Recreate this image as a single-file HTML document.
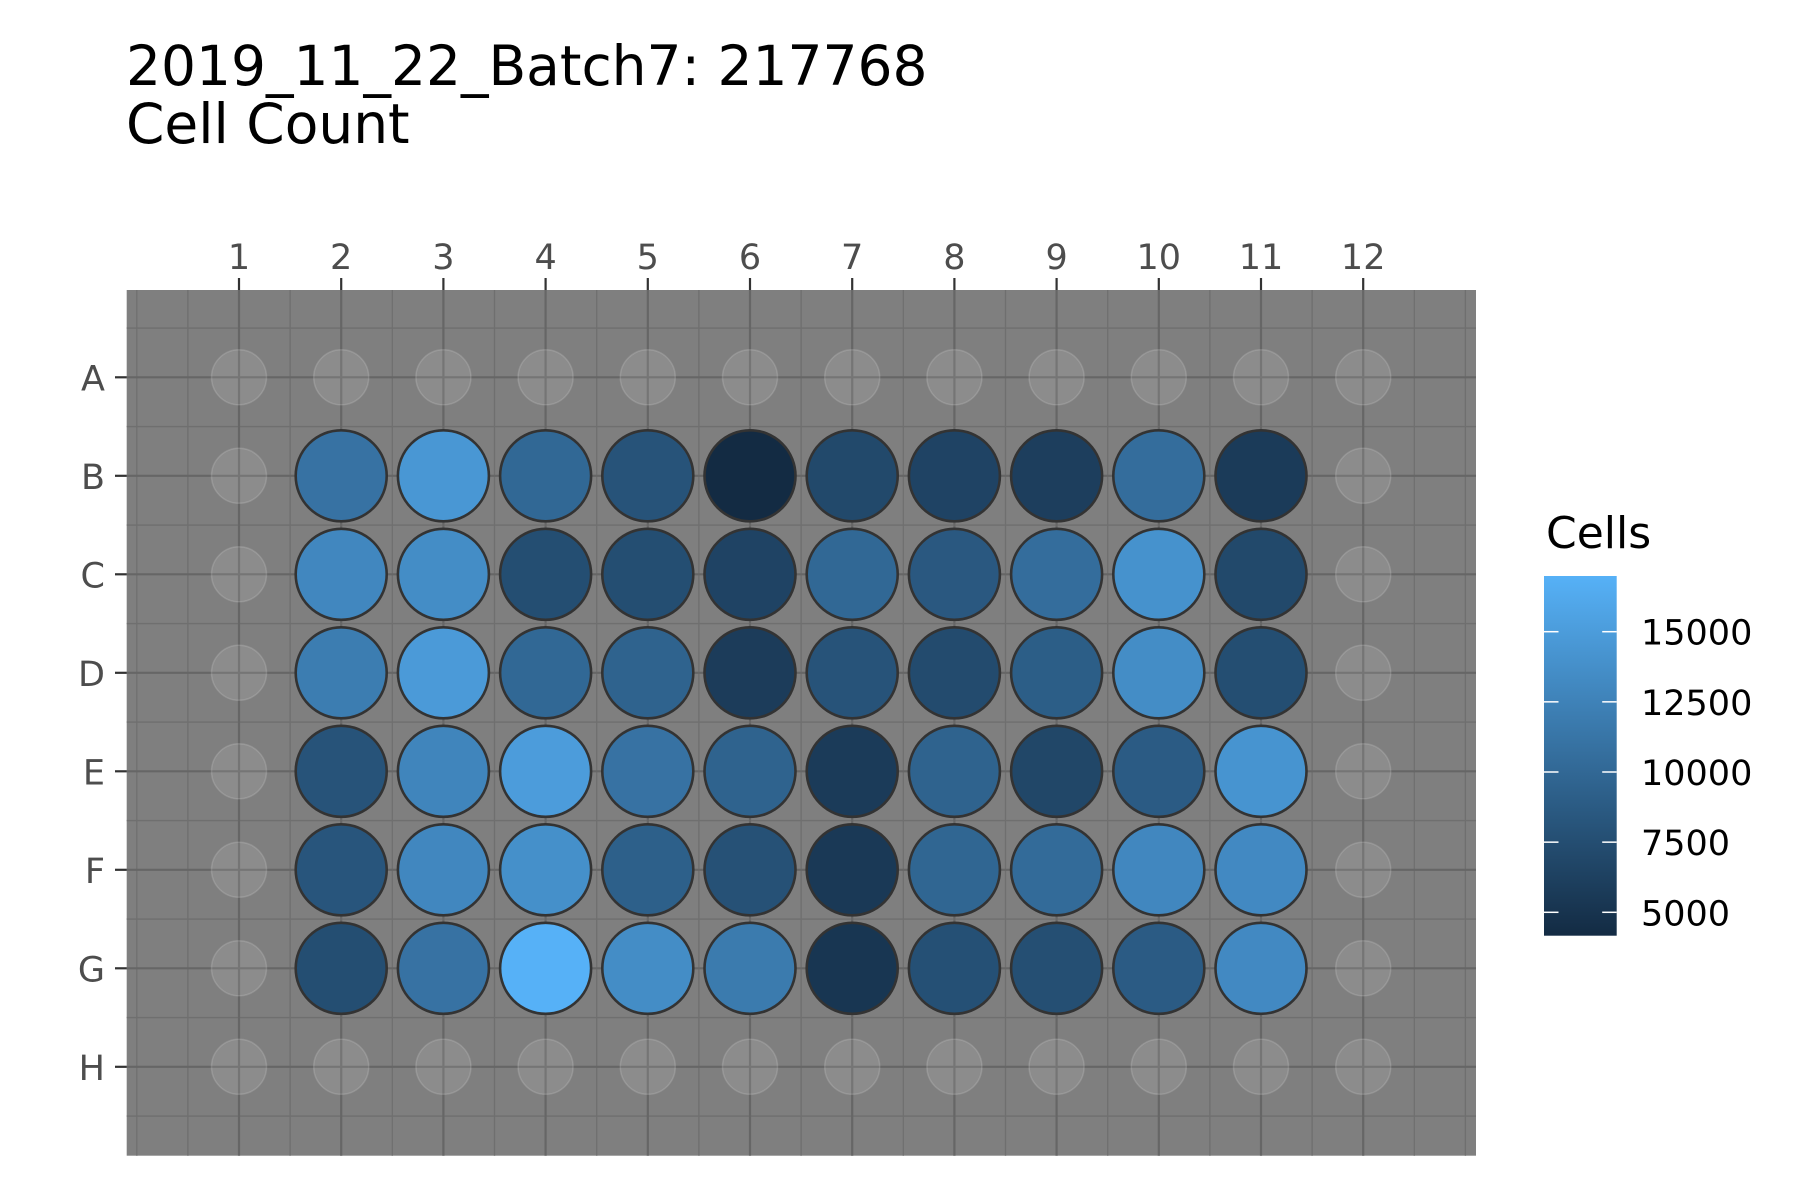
<!DOCTYPE html>
<html><head><meta charset="utf-8"><style>
html,body{margin:0;padding:0;background:#fff;}
svg{display:block;font-family:"DejaVu Sans","Liberation Sans",sans-serif;}
</style></head><body>
<svg id="chart" width="1800" height="1200" viewBox="0 0 1800 1200">
<defs><linearGradient id="lg" x1="0" y1="1" x2="0" y2="0">
<stop offset="0" stop-color="#132B43"/><stop offset="1" stop-color="#56B1F7"/></linearGradient></defs>
<text x="126" y="85" font-size="55" fill="#000">2019_11_22_Batch7: 217768</text>
<text x="126" y="143" font-size="55" fill="#000">Cell Count</text>
<g id="panel"></g>
<g id="legend"></g>
</svg>
<script>
const rowLabels = ["A","B","C","D","E","F","G","H"];
const colLabels = ["1","2","3","4","5","6","7","8","9","10","11","12"];
const rowB = [null,11000,14500,10000,8000,4200,7000,6500,6000,10500,5700,null];
const rowC = [null,13000,13500,7500,7500,6500,10000,8500,10500,14000,7000,null];
const rowD = [null,12000,14800,10000,9500,5800,8000,7200,9000,13500,7500,null];
const rowE = [null,8000,12800,15000,11000,9500,5700,9500,6800,8800,14200,null];
const rowF = [null,8200,13000,13800,9200,7800,5500,9800,10300,13000,13200,null];
const rowG = [null,7500,11000,17000,13500,11800,5200,7700,7600,8800,13200,null];
const legendTicks = [5000,7500,10000,12500,15000];
const valueMin = 4166, valueMax = 16985;

const rows = {B:rowB,C:rowC,D:rowD,E:rowE,F:rowF,G:rowG};
const NS = "http://www.w3.org/2000/svg";
function mk(tag, attrs, parent){const e=document.createElementNS(NS,tag);for(const k in attrs)e.setAttribute(k,attrs[k]);parent.appendChild(e);return e;}
const X0=239, DX=102.2, Y0=377.3, DY=98.5;
function xs(c){return X0+DX*(c-1);}
function ys(r){return Y0+DY*(r-1);}
const PL=126.7, PR=1476, PT=290, PB=1155.7;
function colorOf(v){
  const t=Math.max(0,Math.min(1,(v-valueMin)/(valueMax-valueMin)));
  const a=[0x13,0x2B,0x43], b=[0x56,0xB1,0xF7];
  const c=a.map((x,i)=>Math.round(x+(b[i]-x)*t));
  return `rgb(${c[0]},${c[1]},${c[2]})`;
}
const panel=document.getElementById('panel');
const bg=mk('rect',{x:PL,y:PT,width:PR-PL,height:PB-PT,fill:'#7f7f7f'},panel);


const minorX=[0]; for(let i=0;i<=12;i++) minorX.push(i+0.5); minorX.push(13);
minorX.forEach(c=>{const l=mk('line',{x1:xs(c),x2:xs(c),y1:PT,y2:PB,stroke:'#6f6f6f','stroke-width':1.3},panel);

});
for(let r=0.5;r<=8.5;r+=1){const l=mk('line',{x1:PL,x2:PR,y1:ys(r),y2:ys(r),stroke:'#6f6f6f','stroke-width':1.3},panel);

}
colLabels.forEach((lab,i)=>{const x=xs(i+1);
 const l=mk('line',{x1:x,x2:x,y1:PT,y2:PB,stroke:'#666','stroke-width':2.2},panel);
 
 
 const t=mk('line',{x1:x,x2:x,y1:278,y2:PT,stroke:'#333','stroke-width':2.2},panel);
 
 
 const tx=mk('text',{x:x,y:269,'font-size':35,fill:'#4d4d4d','text-anchor':'middle'},panel);tx.textContent=lab;
 
 });
rowLabels.forEach((lab,i)=>{const y=ys(i+1);
 const l=mk('line',{x1:PL,x2:PR,y1:y,y2:y,stroke:'#666','stroke-width':2.2},panel);
 
 
 const t=mk('line',{x1:115,x2:PL,y1:y,y2:y,stroke:'#333','stroke-width':2.2},panel);
 
 
 const tx=mk('text',{x:105,y:y+13,'font-size':35,fill:'#4d4d4d','text-anchor':'end'},panel);tx.textContent=lab;
 
 });
rowLabels.forEach((rl,ri)=>{colLabels.forEach((cl,ci)=>{
 const cx=xs(ci+1), cy=ys(ri+1);
 const row=rows[rl]; const v=row?row[ci]:null;
 if(v==null){
  const c=mk('circle',{cx:cx,cy:cy,r:27.5,fill:'rgba(255,255,255,0.1)',stroke:'rgba(255,255,255,0.15)','stroke-width':1.5},panel);
  
  
 } else {
  const c=mk('circle',{cx:cx,cy:cy,r:45.5,fill:colorOf(v),stroke:'#333','stroke-width':2.6},panel);
  
  
 }
});});
const lg=document.getElementById('legend');
const LT=576, LB=935.7, LX=1544, LW=72.7;
function ly(v){return LB-(v-valueMin)/(valueMax-valueMin)*(LB-LT);}
const lt=mk('text',{x:1546,y:548,'font-size':44,fill:'#000'},lg);lt.textContent='Cells';


const bar=mk('rect',{x:LX,y:LT,width:LW,height:LB-LT,fill:'url(#lg)'},lg);


legendTicks.forEach(v=>{const y=ly(v);
 const a=mk('line',{x1:LX,x2:LX+14.5,y1:y,y2:y,stroke:'#fff','stroke-width':1.5},lg);
 
 
 const b=mk('line',{x1:LX+LW-14.5,x2:LX+LW,y1:y,y2:y,stroke:'#fff','stroke-width':1.5},lg);
 
 
 const t=mk('text',{x:1641,y:y+13,'font-size':35,fill:'#000'},lg);t.textContent=String(v);
 
 });
</script>
</body></html>
